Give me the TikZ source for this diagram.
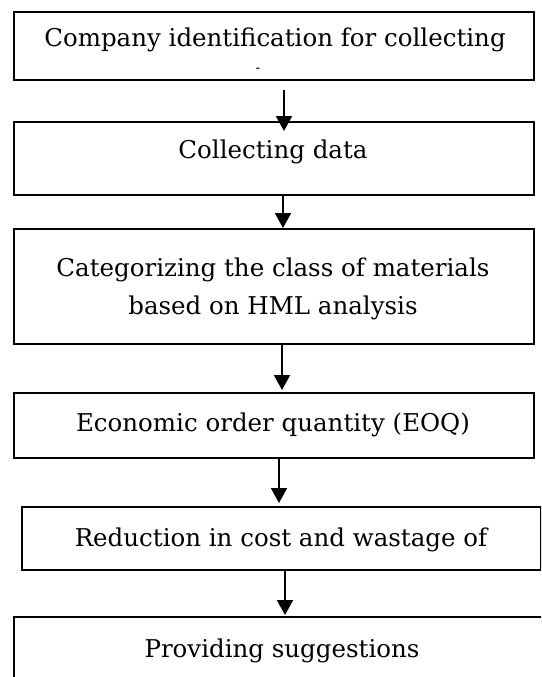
\documentclass[tikz,border=0pt]{standalone}
\usepackage{fontspec}
\setmainfont{DejaVu Serif}
\usetikzlibrary{arrows.meta}

\begin{document}
\begin{tikzpicture}
[x=1pt,y=-1pt]
\tikzset{
	stage/.style = {draw, line width=2pt, inner sep=0, anchor=north west},
	caption/.style = {anchor=base, inner sep=0, font=\fontsize{24.5}{38}\selectfont},
	flow/.style = {line width=2pt, -{Triangle[width=16pt,length=15pt]}}
}
\useasboundingbox (0,0) rectangle (541,677);
\clip (0,0) rectangle (541,677);

% boxes
\node[stage, minimum width=520pt, minimum height=68pt] (box1) at (13,11) {};
\node[stage, minimum width=520pt, minimum height=73pt] (box2) at (13,121) {};
\node[stage, minimum width=520pt, minimum height=115pt] (box3) at (13,228) {};
\node[stage, minimum width=520pt, minimum height=65pt] (box4) at (13,392) {};
\node[stage, minimum width=519pt, minimum height=63pt] (box5) at (21,506) {};
\node[stage, minimum width=560pt, minimum height=100pt] (box6) at (13,616) {};

% texts
\node[caption] (txt1) at (275,47) {Company identification for collecting};
\node[caption, font=\fontsize{14}{14}\selectfont] (dash1) at (258,72) {-};
\node[caption] (txt2) at (273,158) {Collecting data};
\node[caption] (txt3a) at (273,276) {Categorizing the class of materials};
\node[caption] (txt3b) at (273,314) {based on HML analysis};
\node[caption] (txt4) at (273,431) {Economic order quantity (EOQ)};
\node[caption] (txt5) at (281,546) {Reduction in cost and wastage of};
\node[caption] (txt6) at (282,657) {Providing suggestions};

% arrows
\draw[flow] ([xshift=10pt,yshift=-9pt]box1.south) -- ([xshift=10pt,yshift=-10pt]box2.north);
\draw[flow] ([xshift=9pt]box2.south) -- ([xshift=9pt]box3.north);
\draw[flow] ([xshift=8pt]box3.south) -- ([xshift=8pt,yshift=2pt]box4.north);
\draw[flow] ([xshift=5pt]box4.south) -- ([xshift=-2.5pt,yshift=3pt]box5.north);
\draw[flow] ([xshift=3.5pt]box5.south) -- ([xshift=-9pt,yshift=1pt]box6.north);
\end{tikzpicture}
\end{document}
